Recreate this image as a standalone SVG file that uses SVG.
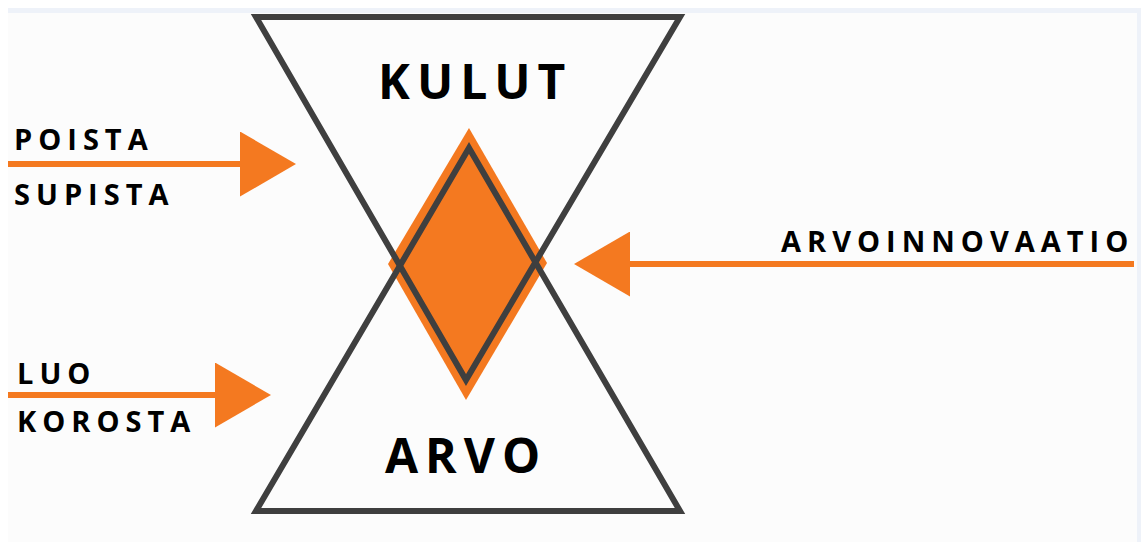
<svg xmlns="http://www.w3.org/2000/svg" width="1141" height="542" viewBox="0 0 1141 542">
  <style>
    .tri { fill: none; stroke: #3f3f3f; stroke-width: 6; stroke-linejoin: miter; stroke-miterlimit: 10; }
    .flow { stroke: #f47920; stroke-width: 6; fill: none; marker-end: url(#head); }
    .big { font-family: "Open Sans", "Liberation Sans", sans-serif; font-weight: 700; font-size: 48px; letter-spacing: 7px; fill: #000; }
    .small { font-family: "Open Sans", "Liberation Sans", sans-serif; font-weight: 700; font-size: 29px; letter-spacing: 6px; fill: #000; }
  </style>
  <defs>
    <marker id="head" markerUnits="userSpaceOnUse" markerWidth="56" markerHeight="65" viewBox="0 0 56 65" refX="1" refY="32.5" orient="auto">
      <path d="M0,0 L56,32.5 L0,65 Z" fill="#f47920"/>
    </marker>
  </defs>

  <!-- page background with light frame -->
  <rect x="0" y="0" width="1141" height="542" fill="#ffffff"/>
  <rect x="8" y="8" width="1133" height="534" fill="#eef2f9"/>
  <rect x="8" y="13" width="1129" height="529" fill="#fcfcfc"/>

  <!-- overlap of the two triangles -->
  <g id="diamond">
    <polygon points="469,128 547,263 466,400 388,264" fill="#f47920"/>
  </g>

  <!-- costs: upper triangle -->
  <g id="kulut">
    <polygon class="tri" points="256,17 680,17 466,380"/>
    <text class="big" x="378" y="99">KULUT</text>
  </g>

  <!-- value: lower triangle -->
  <g id="arvo">
    <polygon class="tri" points="256,511 680,511 469,148"/>
    <text class="big" x="385" y="473">ARVO</text>
  </g>

  <g id="connectors">
    <line class="flow" x1="8" y1="164" x2="241" y2="164"/>
    <line class="flow" x1="8" y1="395" x2="216" y2="395"/>
    <line class="flow" x1="1134" y1="264" x2="629" y2="264"/>
  </g>

  <g id="labels-left-top">
    <text class="small" x="14" y="150">POISTA</text>
    <text class="small" x="14" y="205">SUPISTA</text>
  </g>
  <g id="labels-left-bottom">
    <text class="small" x="17" y="384">LUO</text>
    <text class="small" x="17" y="432">KOROSTA</text>
  </g>
  <g id="label-right">
    <text class="small" x="781" y="252">ARVOINNOVAATIO</text>
  </g>
</svg>
